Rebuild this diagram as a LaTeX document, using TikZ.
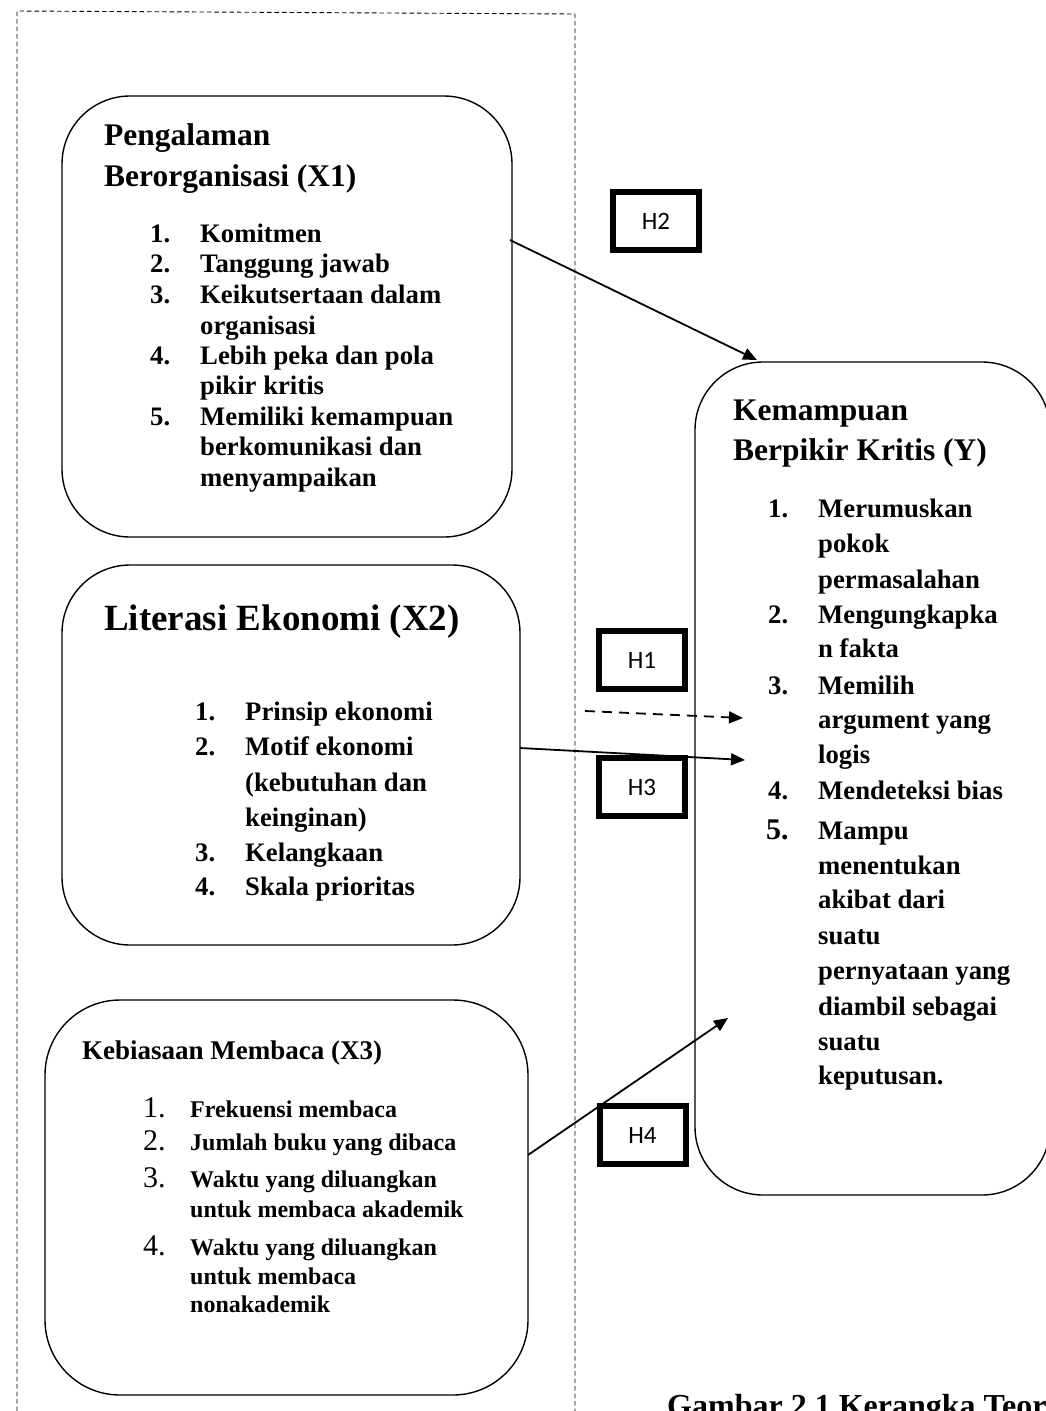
\documentclass[tikz,border=0pt]{standalone}
\usepackage{fontspec}
\setmainfont{Liberation Serif}
\newfontfamily\hfont{Carlito}
\usetikzlibrary{arrows.meta}
\begin{document}
\begin{tikzpicture}[x=1pt,y=-1pt,
  box/.style={draw, line width=1.4pt, rounded corners=68pt, inner sep=0pt},
  hbox/.style={draw, line width=6pt, minimum width=86pt, minimum height=58pt, inner sep=0pt, font=\hfont\fontsize{25}{28}\selectfont},
  ttl/.style={anchor=base west, inner sep=0pt, font=\bfseries\fontsize{31.5}{36}\selectfont},
  itm/.style={anchor=base west, inner sep=0pt, font=\bfseries\fontsize{26.7}{30}\selectfont},
  sitm/.style={anchor=base west, inner sep=0pt, font=\bfseries\fontsize{24}{28}\selectfont},
  snum/.style={anchor=base west, inner sep=0pt, font=\fontsize{30}{34}\selectfont},
  arr/.style={line width=1.8pt, -{Triangle[length=14pt,width=12pt]}},
  darr/.style={line width=1.8pt, dash pattern=on 10pt off 7pt, -{Triangle[length=14pt,width=12pt]}},
  frame/.style={line width=0.9pt, dash pattern=on 4.5pt off 3pt}
]
\useasboundingbox (0,0) rectangle (1046,1411);
\fill[white] (0,0) rectangle (1046,1411);

% dashed frame
\draw[frame] (17,1411) -- (17,11) -- (575,14) -- (575,1411);

% boxes
\node (X1) [box, minimum width=450pt, minimum height=441pt] at (287,316.5) {};
\node (X2) [box, minimum width=458pt, minimum height=380pt] at (291,755) {};
\node (X3) [box, minimum width=483pt, minimum height=395pt, rounded corners=75pt] at (286.5,1197.5) {};
\node (Y)  [box, minimum width=355pt, minimum height=833pt] at (872.5,778.5) {};

% hypothesis labels
\node (H2) [hbox] at (656,221) {H2};
\node (H1) [hbox] at (642,660) {H1};
\node (H3) [hbox] at (642,787) {H3};
\node (H4) [hbox] at (642.5,1135) {H4};

% X1 text
\node (x1t1) [ttl] at (104,145) {Pengalaman};
\node (x1t2) [ttl] at (104,186) {Berorganisasi (X1)};
\foreach \yy/\tt [count=\i] in {242/1.,272/2.,303/3.,364/4.,425/5.}
  \node (x1n\i) [itm] at (150,\yy) {\tt};
\foreach \yy/\tt [count=\i] in {242/Komitmen,272/Tanggung jawab,303/Keikutsertaan dalam,334/organisasi,364/Lebih peka dan pola,394/pikir kritis,425/Memiliki kemampuan,455/berkomunikasi dan,486/menyampaikan}
  \node (x1l\i) [itm] at (200,\yy) {\tt};

% X2 text
\node (x2t) [ttl, font=\bfseries\fontsize{37}{42}\selectfont] at (104,630) {Literasi Ekonomi (X2)};
\foreach \yy/\tt [count=\i] in {720/1.,755/2.,861/3.,895/4.}
  \node (x2n\i) [itm] at (195,\yy) {\tt};
\foreach \yy/\tt [count=\i] in {720/Prinsip ekonomi,755/Motif ekonomi,791/(kebutuhan dan,826/keinginan),861/Kelangkaan,895/Skala prioritas}
  \node (x2l\i) [itm] at (245,\yy) {\tt};

% X3 text
\node (x3t) [ttl, font=\bfseries\fontsize{27}{31}\selectfont] at (82,1059) {Kebiasaan Membaca (X3)};
\foreach \yy/\tt [count=\i] in {1117/1.,1150/2.,1187/3.,1255/4.}
  \node (x3n\i) [snum] at (143,\yy) {\tt};
\foreach \yy/\tt [count=\i] in {1117/Frekuensi membaca,1150/Jumlah buku yang dibaca,1187/Waktu yang diluangkan,1217/untuk membaca akademik,1255/Waktu yang diluangkan,1284/untuk membaca,1312/nonakademik}
  \node (x3l\i) [sitm] at (190,\yy) {\tt};

% Y text
\node (yt1) [ttl] at (733,420) {Kemampuan};
\node (yt2) [ttl] at (733,460) {Berpikir Kritis (Y)};
\foreach \yy/\tt [count=\i] in {517/1.,623/2.,694/3.,799/4.}
  \node (yn\i) [itm] at (768,\yy) {\tt};
\node (yn5) [itm, font=\bfseries\fontsize{30}{34}\selectfont] at (766,839) {5.};
\foreach \yy/\tt [count=\i] in {517/Merumuskan,552/pokok,588/permasalahan,623/Mengungkapka,657/n fakta,694/Memilih,728/argument yang,763/logis,799/Mendeteksi bias,839/Mampu,874/menentukan,908/akibat dari,944/suatu,979/pernyataan yang,1015/diambil sebagai,1050/suatu,1084/keputusan.}
  \node (yl\i) [itm] at (818,\yy) {\tt};

% caption (cut off by the page edge, as in the reference)
\node (cap) [anchor=base west, inner sep=0pt, font=\bfseries\fontsize{32}{36}\selectfont] at (667,1416) {Gambar 2.1 Kerangka Teori};

% connector end points
\coordinate (x1out) at (510,240);
\coordinate (y2in) at (757,360);
\coordinate (h1from) at (585,711);
\coordinate (h1to) at (743,718);
\coordinate (x2out) at (520,748);
\coordinate (y3in) at (745,760);
\coordinate (x3out) at (528,1155);
\coordinate (y4in) at (728,1018);

\draw[arr] (x1out) -- (y2in);
\draw[darr] (h1from) -- (h1to);
\draw[arr] (x2out) -- (y3in);
\draw[arr] (x3out) -- (y4in);
\end{tikzpicture}
\end{document}
